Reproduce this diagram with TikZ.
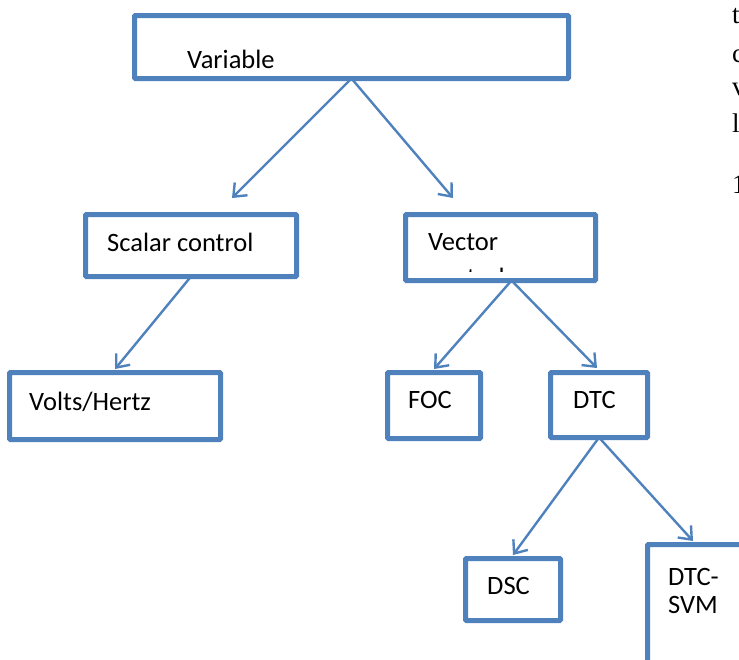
\documentclass[tikz,border=0pt]{standalone}
\usepackage{fontspec}
\setmainfont{Carlito}
\newfontfamily\serifedge{Liberation Serif}
\usetikzlibrary{arrows.meta}
\definecolor{boxblue}{HTML}{4F81BD}
\tikzset{
  box/.style={draw=boxblue, line width=5pt, rounded corners=1pt, inner sep=0pt, outer sep=0pt, fill=white, anchor=north west},
  lbl/.style={anchor=base west, inner sep=0pt, font=\fontsize{26.5}{32}\selectfont},
  edge/.style={anchor=base west, inner sep=0pt, font=\serifedge\fontsize{27}{32}\selectfont},
  arr/.style={draw=boxblue, line width=2.4pt, -{Straight Barb[length=11pt,width=18pt,line width=2.4pt]}}
}
\begin{document}
\begin{tikzpicture}[x=1pt,y=-1pt]
\useasboundingbox (0,0) rectangle (739,659);
\begin{scope}
\clip (0,0) rectangle (739,659);
% boxes
\node[box, minimum width=434pt, minimum height=63pt] (var) at (134.5,15.5) {};
\node[box, minimum width=211pt, minimum height=62pt] (scalar) at (85.5,214.5) {};
\node[box, minimum width=190pt, minimum height=66pt] (vector) at (405.5,214.5) {};
\node[box, minimum width=211pt, minimum height=67pt] (volts) at (9.5,372.5) {};
\node[box, minimum width=93pt, minimum height=66pt] (foc) at (387.5,372.5) {};
\node[box, minimum width=97pt, minimum height=65pt] (dtc) at (550.5,372.5) {};
\node[box, minimum width=95pt, minimum height=62pt] (dsc) at (465.5,558.5) {};
\node[box, minimum width=152pt, minimum height=175pt] (svm) at (647.5,544.5) {};
% labels
\node[lbl] (tvar) at (187,68) {Variable};
\node[lbl] (tscalar) at (107,251) {Scalar control};
\node[lbl] (tvector) at (428,250) {Vector};
\begin{scope}
\clip (410,255) rectangle (590,271);
\node[lbl] (tcontrol) at (428,286) {control};
\end{scope}
\node[lbl] (tvolts) at (29,410) {Volts/Hertz};
\node[lbl] (tfoc) at (408,408) {FOC};
\node[lbl] (tdtc) at (573,408) {DTC};
\node[lbl] (tdsc) at (487,594) {DSC};
\node[lbl] (tsvm1) at (668,585) {DTC-};
\node[lbl] (tsvm2) at (668,613) {SVM};
% arrows
\draw[arr] (var.south) -- ([xshift=41pt,yshift=16.5pt]scalar.north);
\draw[arr] (var.south) -- ([xshift=-47.5pt,yshift=16.5pt]vector.north);
\draw[arr] (scalar.south) -- ([yshift=3.5pt]volts.north);
\draw[arr] ([xshift=11pt]vector.south) -- ([yshift=3.5pt]foc.north);
\draw[arr] ([xshift=11pt]vector.south) -- ([xshift=-2pt,yshift=4.5pt]dtc.north);
\draw[arr] (dtc.south) -- ([yshift=3.5pt]dsc.north);
\draw[arr] (dtc.south) -- ([xshift=45.5pt,yshift=3.5pt]svm.north west);
% clipped text fragments at right edge
\node[edge] (e1) at (732,23) {t};
\node[edge] (e2) at (732,62) {c};
\node[edge] (e3) at (732,95) {v};
\node[edge] (e4) at (732,132) {l};
\node[edge] (e5) at (732,193) {1};
\end{scope}
\end{tikzpicture}
\end{document}
